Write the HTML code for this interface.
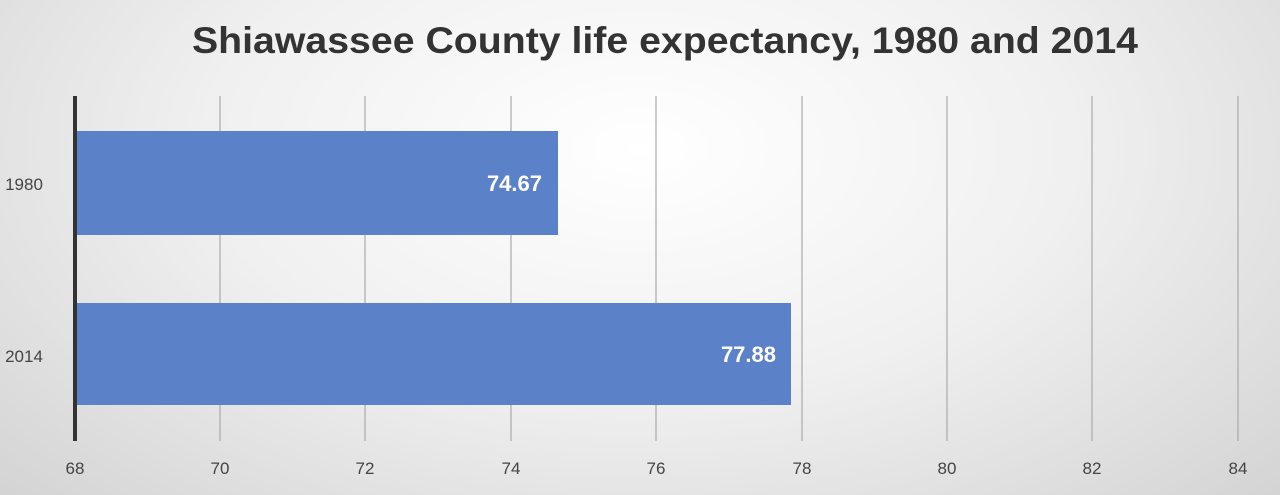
<!DOCTYPE html>
<html><head><style>
html,body{margin:0;padding:0;}
body{width:1280px;height:495px;overflow:hidden;background:radial-gradient(ellipse 75% 110% at 50% 30%,#ffffff 0%,#f0f0f0 45%,#cfcfcf 100%);}
svg{position:absolute;left:0;top:0;font-family:"Liberation Sans",sans-serif;}
</style></head><body>
<svg width="1280" height="495" viewBox="0 0 1280 495">
<text x="192" y="53" font-size="37" font-weight="bold" fill="#333" textLength="946" lengthAdjust="spacingAndGlyphs">Shiawassee County life expectancy, 1980 and 2014</text>
<g stroke="#aaa" stroke-width="1.2">
<line x1="220" y1="96" x2="220" y2="441"/>
<line x1="365" y1="96" x2="365" y2="441"/>
<line x1="511" y1="96" x2="511" y2="441"/>
<line x1="656" y1="96" x2="656" y2="441"/>
<line x1="802" y1="96" x2="802" y2="441"/>
<line x1="947" y1="96" x2="947" y2="441"/>
<line x1="1092" y1="96" x2="1092" y2="441"/>
<line x1="1238" y1="96" x2="1238" y2="441"/>
</g>
<rect x="76" y="131" width="482" height="104" fill="#5b81c8"/>
<rect x="76" y="303" width="715" height="102" fill="#5b81c8"/>
<line x1="75" y1="96" x2="75" y2="441" stroke="#333" stroke-width="4"/>
<text x="542" y="191" text-anchor="end" font-size="22" font-weight="bold" fill="#fff">74.67</text>
<text x="776" y="362" text-anchor="end" font-size="22" font-weight="bold" fill="#fff">77.88</text>
<g font-size="17" fill="#444">
<text x="24" y="190" text-anchor="middle">1980</text>
<text x="24" y="362" text-anchor="middle">2014</text>
</g>
<g font-size="17" fill="#444" text-anchor="middle">
<text x="75" y="474">68</text><text x="220" y="474">70</text><text x="365" y="474">72</text><text x="511" y="474">74</text><text x="656" y="474">76</text><text x="802" y="474">78</text><text x="947" y="474">80</text><text x="1092" y="474">82</text><text x="1238" y="474">84</text>
</g>
</svg>
</body></html>
